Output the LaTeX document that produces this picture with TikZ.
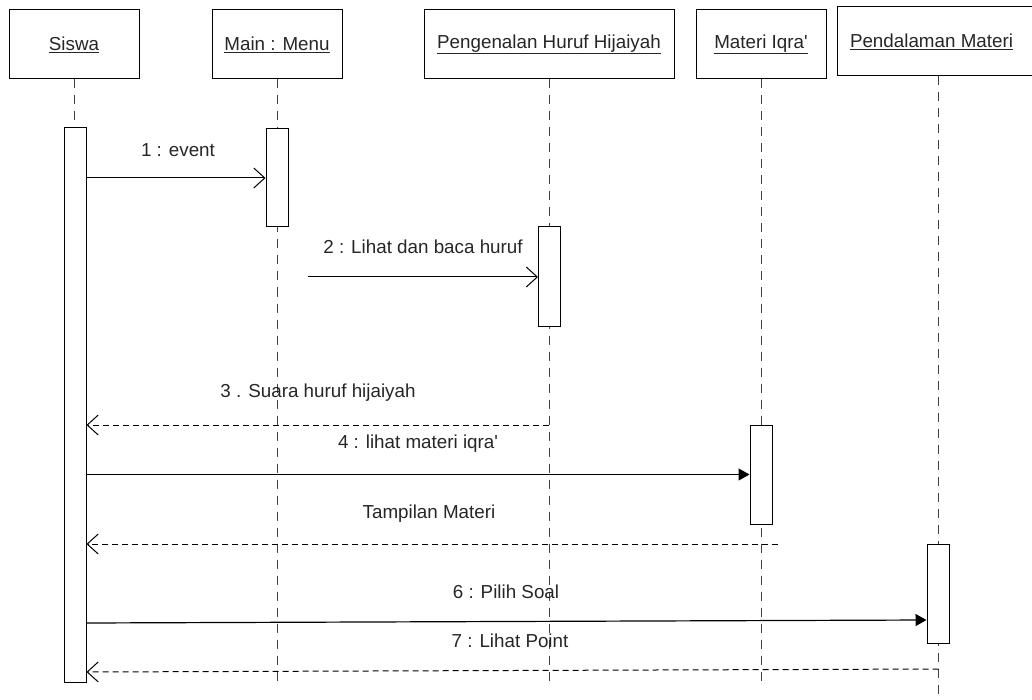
\documentclass[tikz,border=0pt]{standalone}
\usepackage{fontspec}
\setmainfont{Liberation Sans}
\usetikzlibrary{arrows.meta,positioning}

\begin{document}
\begin{tikzpicture}[
    x=1pt, y=-1pt,
    font=\fontsize{18.8}{22}\selectfont,
    head/.style={rectangle, draw, line width=1pt, minimum height=69pt, inner sep=0pt, text=black!85},
    act/.style={rectangle, draw, fill=white, line width=1pt, minimum width=22pt, inner sep=0pt},
    life/.style={draw=black!75, line width=1pt, dash pattern=on 9pt off 7pt},
    call/.style={line width=1pt, -{Straight Barb[length=11pt,width=20pt]}},
    sync/.style={line width=1.2pt, -{Triangle[length=11pt,width=12pt]}},
    reply/.style={line width=1pt, dash pattern=on 6pt off 4pt, -{Straight Barb[length=11pt,width=20pt]}},
    lbl/.style={inner sep=0pt, text=black!85}
]
\useasboundingbox (0,0) rectangle (1032,700);

% objects
\node[head, minimum width=130pt] (siswa) at (74,44.5) {\underline{Siswa}};
\node[head, minimum width=130pt] (menu) at (277,44.5) {\underline{Main : Menu}};
\node[head, minimum width=250pt] (kenal) at (549,44.5) {\underline{Pengenalan Huruf Hijaiyah}};
\node[head, minimum width=130pt] (materi) at (761,44.5) {\underline{Materi Iqra\textquotesingle}};
\node[head, minimum width=203pt] (dalam) at (938.5,41.5) {\hspace*{-14pt}\underline{Pendalaman Materi}};

% lifelines
\coordinate (bottom) at (0,683);
\draw[life] (siswa.south) -- (siswa.south |- bottom);
\draw[life] (menu.south) -- (menu.south |- bottom);
\draw[life] (kenal.south) -- (kenal.south |- bottom);
\draw[life] (materi.south) -- (materi.south |- bottom);
\draw[life] (dalam.south) -- (dalam.south |- 0,700);

% activations
\node[act, minimum height=554pt] (siswaAct) at (75,405) {};
\node[act, minimum height=98pt] (menuAct) at (277,178) {};
\node[act, minimum height=99pt] (kenalAct) at (549.5,276.5) {};
\node[act, minimum height=99pt] (materiAct) at (761,474.5) {};
\node[act, minimum height=99pt] (dalamAct) at (938,593.5) {};

% messages
\coordinate (m2) at (308,277);
\coordinate (m5) at (778,544);
\draw[call] (siswaAct.east |- menuAct) -- (menuAct.west);
\draw[call] (m2) -- (kenalAct.west |- m2);
\draw[reply] (kenal.south |- 0,425) -- (siswaAct.east |- 0,425);
\draw[sync] (siswaAct.east |- materiAct) -- (materiAct.west);
\draw[reply] (m5) -- (siswaAct.east |- m5);
\draw[sync] (siswaAct.east |- 0,623) -- (dalamAct.west |- 0,620);
\draw[reply] (dalam.south |- 0,669) -- (siswaAct.east |- 0,672);

% labels
\node[lbl] (l1) at (178,150) {1 : event};
\node[lbl] (l2) at (423,247) {2 : Lihat dan baca huruf};
\node[lbl] (l3) at (318,393) {3 . Suara huruf hijaiyah};
\node[lbl] (l4) at (418,444) {4 : lihat materi iqra\textquotesingle};
\node[lbl] (l5) at (429,514) {Tampilan Materi};
\node[lbl] (l6) at (506,592) {6 : Pilih Soal};
\node[lbl] (l7) at (510,641) {7 : Lihat Point};
\end{tikzpicture}
\end{document}
